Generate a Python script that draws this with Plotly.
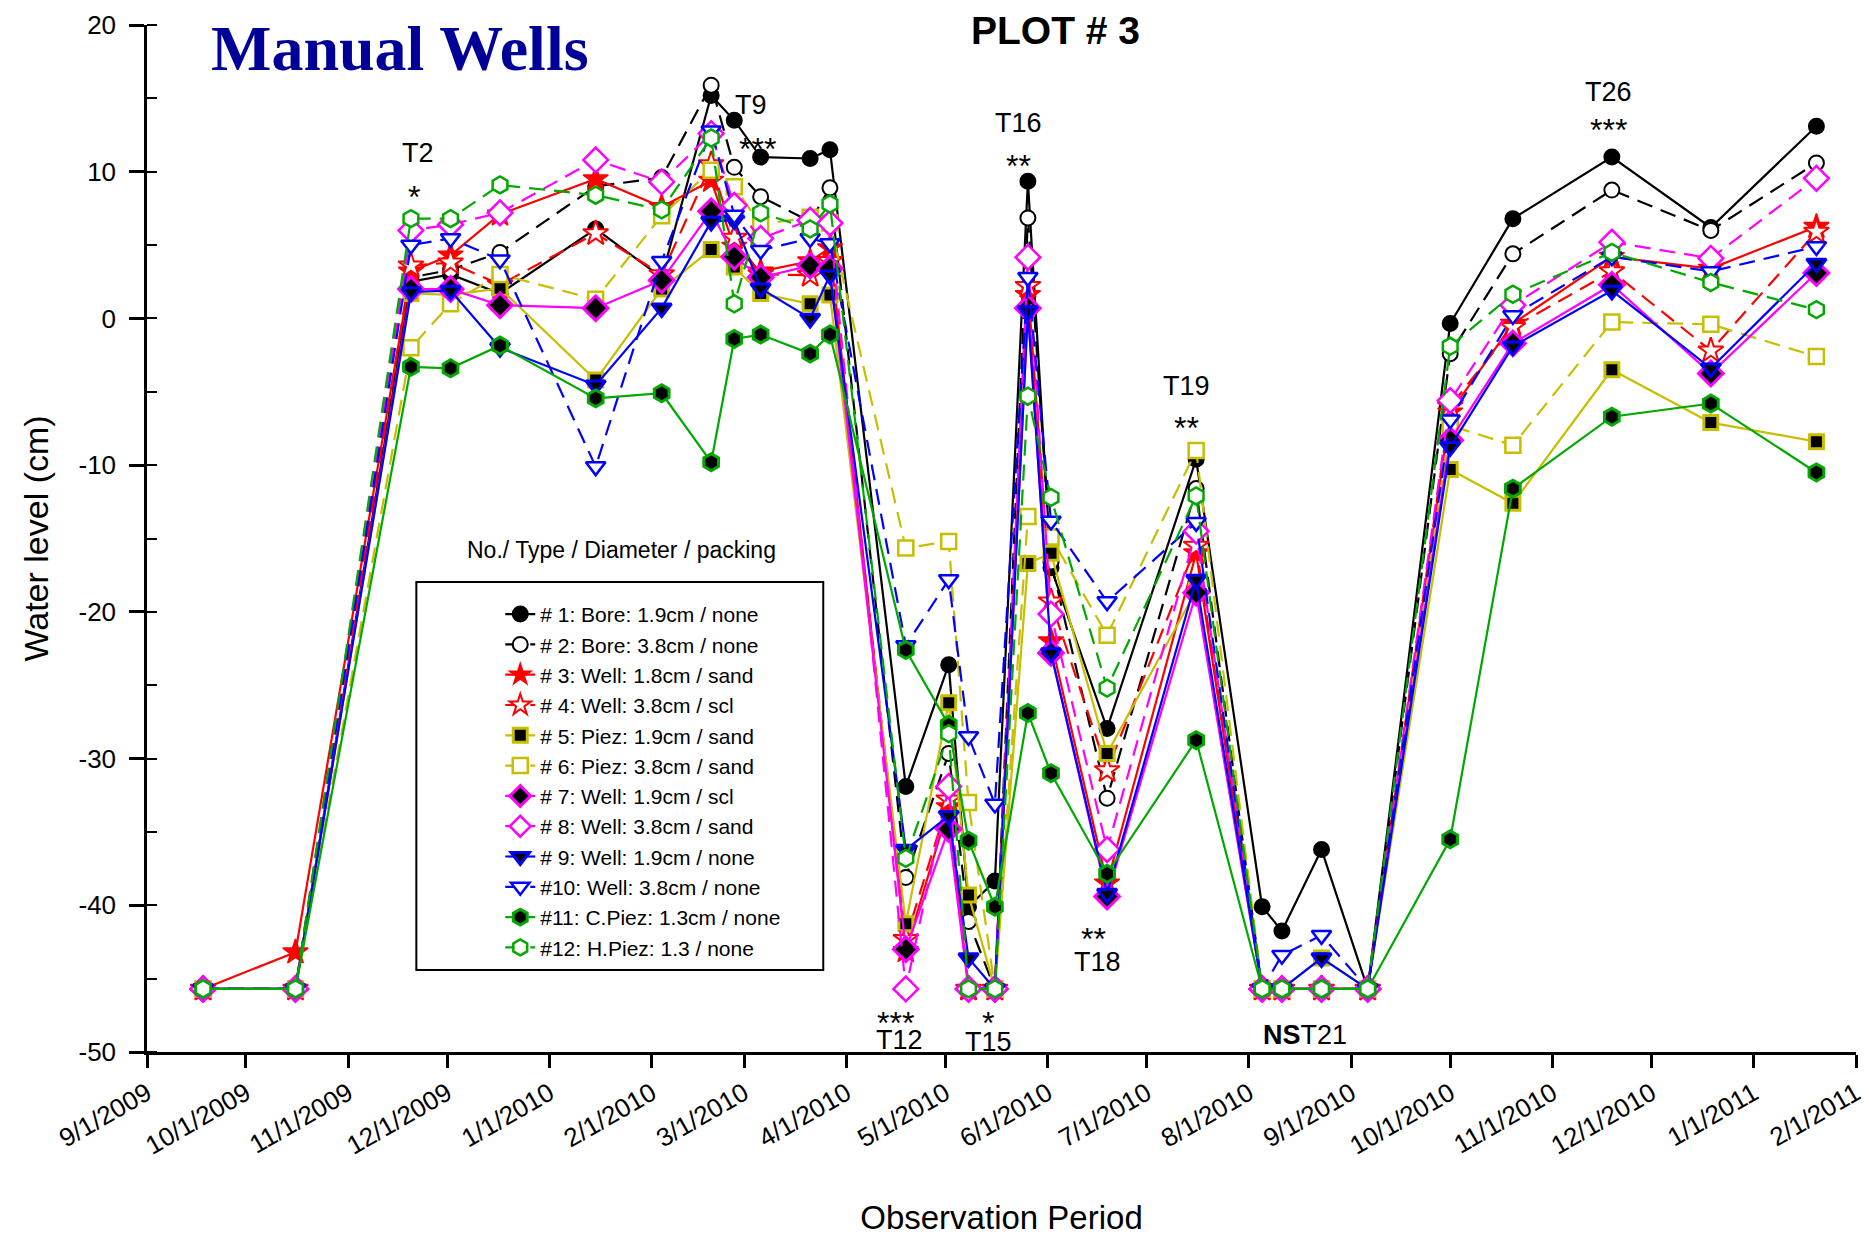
import plotly.graph_objects as go

# ---------------- data ----------------
dates = ["2009-09-18", "2009-10-16", "2009-11-20", "2009-12-02", "2009-12-17",
         "2010-01-15", "2010-02-04", "2010-02-19", "2010-02-26", "2010-03-06",
         "2010-03-21", "2010-03-27", "2010-04-19", "2010-05-02", "2010-05-08",
         "2010-05-16", "2010-05-26", "2010-06-02", "2010-06-19", "2010-07-16",
         "2010-08-05", "2010-08-11", "2010-08-23", "2010-09-06", "2010-10-01",
         "2010-10-20", "2010-11-19", "2010-12-19", "2011-01-20"]

w1 = [-45.7, -45.7, 2.5, 3.0, 1.7, 6.1, 2.8, 15.2, 13.5, 11.0, 10.9, 11.5, -31.9, -23.6, -40.1,
      -38.35, 9.35, -17.0, -27.95, -9.6, -40.1, -41.75, -36.2, -45.7, -0.35, 6.8, 11.0, 6.2, 13.1]
w2 = [-45.7, -45.7, 2.8, 3.3, 4.5, 9.0, 9.6, 15.9, 10.3, 8.3, 6.6, 8.9, -38.1, -29.65, -41.1,
      -45.7, 6.85, -16.6, -32.7, -11.6, -45.7, -45.7, -45.7, -45.7, -2.4, 4.4, 8.75, 6.0, 10.6]
w3 = [-45.7, -43.2, 3.2, 4.3, 7.1, 9.5, 7.6, 9.4, 4.9, 3.2, 3.9, 4.8, -43.1, -33.3, -45.7,
      -45.7, 1.6, -22.0, -38.5, -16.0, -45.7, -45.7, -45.7, -45.7, -6.4, -0.35, 4.2, 3.4, 6.25]
w4 = [-45.7, -45.7, 3.6, 3.8, 2.3, 5.8, 3.0, 10.5, 5.5, 3.0, 2.95, 3.9, -42.3, -32.8, -45.7,
      -45.7, 2.2, -19.3, -30.8, -15.5, -45.7, -45.7, -45.7, -45.7, -6.0, -0.6, 3.2, -2.2, 5.9]
w5 = [-45.7, -45.7, 1.7, 1.6, 2.05, -4.2, 2.0, 4.7, 3.5, 1.7, 1.0, 1.6, -41.25, -26.2, -39.3,
      -45.7, -16.7, -16.0, -29.65, -18.55, -45.7, -45.7, -43.6, -45.7, -10.3, -12.6, -3.5, -7.1, -8.4]
w6 = [-45.7, -45.7, -2.0, 1.0, 3.0, 1.3, 7.0, 10.1, 8.98, 6.4, 6.9, 6.5, -15.65, -15.2, -33.0,
      -45.7, -13.5, -14.9, -21.6, -9.0, -45.7, -45.7, -45.7, -45.7, -7.3, -8.65, -0.25, -0.4, -2.6]
w7 = [-45.7, -45.7, 2.0, 2.0, 0.9, 0.7, 2.6, 7.3, 4.2, 2.8, 3.6, 3.4, -43.0, -34.8, -45.7,
      -45.7, 0.7, -22.8, -39.4, -18.7, -45.7, -45.7, -45.7, -45.7, -8.3, -1.7, 2.3, -3.75, 3.1]
w8 = [-45.7, -45.7, 6.0, 6.4, 7.2, 10.8, 9.3, 12.6, 7.7, 5.45, 6.7, 6.5, -45.7, -31.9, -45.7,
      -45.7, 4.17, -20.15, -36.2, -14.5, -45.7, -45.7, -45.7, -45.7, -5.6, 0.9, 5.2, 4.1, 9.55]
w9 = [-45.7, -45.7, 1.8, 1.9, -2.0, -4.55, 0.7, 6.6, 6.7, 2.05, 0.0, 2.95, -36.2, -33.9, -43.6,
      -45.7, 0.5, -22.8, -39.2, -17.8, -45.7, -45.7, -43.6, -45.7, -8.75, -1.9, 1.9, -3.4, 3.75]
w10 = [-45.7, -45.7, 5.0, 5.45, 4.0, -10.1, 3.9, 12.8, 7.05, 4.65, 5.45, 5.1, -22.3, -17.8, -28.5,
       -33.1, 2.8, -13.8, -19.3, -13.9, -45.7, -43.4, -42.05, -45.7, -6.9, 0.2, 4.2, 3.2, 4.9]
w11 = [-45.7, -45.7, -3.3, -3.4, -1.85, -5.45, -5.1, -9.8, -1.4, -1.1, -2.4, -1.1, -22.6, -27.7, -35.6,
       -40.1, -26.9, -31.0, -37.85, -28.75, -45.7, -45.7, -45.7, -45.7, -35.5, -11.6, -6.7, -5.8, -10.5]
w12 = [-45.7, -45.7, 6.8, 6.8, 9.1, 8.4, 7.4, 12.3, 1.0, 7.2, 6.1, 7.8, -36.8, -28.3, -45.7,
       -45.7, -5.3, -12.2, -25.2, -12.1, -45.7, -45.7, -45.7, -45.7, -1.9, 1.65, 4.5, 2.45, 0.6]

names = ["# 1: Bore: 1.9cm / none", "# 2: Bore: 3.8cm / none", "# 3: Well: 1.8cm / sand",
         "# 4: Well: 3.8cm / scl", "# 5: Piez: 1.9cm / sand", "# 6: Piez: 3.8cm / sand",
         "# 7: Well: 1.9cm / scl", "# 8: Well: 3.8cm / sand", "# 9: Well: 1.9cm / none",
         "#10: Well: 3.8cm / none", "#11: C.Piez: 1.3cm / none", "#12: H.Piez: 1.3 / none"]

month_ticks = ["2009-09-01", "2009-10-01", "2009-11-01", "2009-12-01", "2010-01-01",
               "2010-02-01", "2010-03-01", "2010-04-01", "2010-05-01", "2010-06-01",
               "2010-07-01", "2010-08-01", "2010-09-01", "2010-10-01", "2010-11-01",
               "2010-12-01", "2011-01-01", "2011-02-01"]
month_labels = ["9/1/2009", "10/1/2009", "11/1/2009", "12/1/2009", "1/1/2010",
                "2/1/2010", "3/1/2010", "4/1/2010", "5/1/2010", "6/1/2010",
                "7/1/2010", "8/1/2010", "9/1/2010", "10/1/2010", "11/1/2010",
                "12/1/2010", "1/1/2011", "2/1/2011"]
level_ticks = [-50, -40, -30, -20, -10, 0, 10, 20]
level_labels = ["-50", "-40", "-30", "-20", "-10", "0", "10", "20"]

# annotation labels: (text, date, level)
t_labels = [("T2", "2009-11-22", 11.3), ("T9", "2010-03-03", 14.55),
            ("T16", "2010-05-23", 13.3), ("T19", "2010-07-13", -4.6),
            ("T26", "2010-11-18", 15.43), ("T18", "2010-06-16", -43.85),
            ("T12", "2010-04-17", -49.15), ("T15", "2010-05-14", -49.35),
            ("<b>NS</b>T21", "2010-08-18", -48.86)]
star_labels = [("*", "2009-11-21", 8.3), ("***", "2010-03-05", 11.55),
               ("**", "2010-05-23", 10.4), ("**", "2010-07-13", -7.5),
               ("***", "2010-11-18", 12.84), ("**", "2010-06-15", -42.3),
               ("***", "2010-04-16", -48.0), ("*", "2010-05-14", -48.0)]

# ---------------- styles ----------------
BLACK, RED, YEL, MAG, BLU, GRN = "black", "#ff0000", "#c8be00", "#ff00ff", "#0000ff", "#00a800"
DASH = "16px,9px"
styles = [
    dict(c=BLACK, dash="solid", sym="circle", fill=BLACK, size=15, lw=2),
    dict(c=BLACK, dash=DASH, sym="circle", fill="white", size=15, lw=2),
    dict(c=RED, dash="solid", sym="star", fill=RED, size=19, lw=1.5),
    dict(c=RED, dash=DASH, sym="star", fill="white", size=19, lw=2),
    dict(c=YEL, dash="solid", sym="square", fill=BLACK, size=14, lw=3),
    dict(c=YEL, dash=DASH, sym="square", fill="white", size=15, lw=2.5),
    dict(c=MAG, dash="solid", sym="diamond", fill=BLACK, size=19, lw=3),
    dict(c=MAG, dash=DASH, sym="diamond", fill="white", size=19, lw=2.5),
    dict(c=BLU, dash="solid", sym="triangle-down", fill=BLACK, size=17, lw=3),
    dict(c=BLU, dash=DASH, sym="triangle-down", fill="white", size=17, lw=2.5),
    dict(c=GRN, dash="solid", sym="hexagon", fill=BLACK, size=17, lw=3),
    dict(c=GRN, dash=DASH, sym="hexagon", fill="white", size=17, lw=2.5),
]
series = [w1, w2, w3, w4, w5, w6, w7, w8, w9, w10, w11, w12]

fig = go.Figure()
for vals, nm, s in zip(series, names, styles):
    fig.add_trace(go.Scatter(
        x=dates, y=vals, name=nm, mode="lines+markers",
        line=dict(color=s["c"], width=2.2, dash=s["dash"]),
        marker=dict(symbol=s["sym"], size=s["size"], color=s["fill"],
                    line=dict(color=s["c"], width=s["lw"])),
    ))

FONT = "Liberation Sans, Arial, sans-serif"
annotations = []
for txt, d, v in t_labels:
    annotations.append(dict(text=txt, x=d, y=v, xref="x", yref="y", showarrow=False,
                            font=dict(family=FONT, size=27, color="black"),
                            xanchor="center", yanchor="middle"))
for txt, d, v in star_labels:
    annotations.append(dict(text=txt, x=d, y=v, xref="x", yref="y", showarrow=False,
                            font=dict(family=FONT, size=32, color="black"),
                            xanchor="center", yanchor="middle"))
annotations.append(dict(text="<b>Manual Wells</b>", xref="paper", yref="paper", x=0.148, y=0.9776,
                        showarrow=False, xanchor="center", yanchor="middle",
                        font=dict(family="Liberation Serif, Times New Roman, serif", size=64, color="#000099")))
annotations.append(dict(text="<b>PLOT # 3</b>", xref="paper", yref="paper", x=0.5314, y=0.995,
                        showarrow=False, xanchor="center", yanchor="middle",
                        font=dict(family=FONT, size=39, color="black")))
annotations.append(dict(text="No./ Type / Diameter / packing", xref="paper", yref="paper",
                        x=0.2775, y=0.4888, showarrow=False, xanchor="center", yanchor="middle",
                        font=dict(family=FONT, size=23, color="black")))

# the page body adds an 8 px offset; size the figure so the plot area lands where the reference has it
fig.update_layout(
    width=1861, height=1228,
    margin=dict(l=139, r=13, t=17, b=184),
    paper_bgcolor="white", plot_bgcolor="white",
    font=dict(family=FONT, color="black"),
    showlegend=True,
    legend=dict(x=0.2067, y=0.446, xanchor="left", yanchor="top",
                bgcolor="rgba(0,0,0,0)", borderwidth=0,
                font=dict(family=FONT, size=21, color="black"),
                tracegroupgap=0, itemsizing="trace"),
    annotations=annotations,
    shapes=[dict(type="rect", xref="paper", yref="paper", x0=0.1576, x1=0.3957,
                 y0=0.0798, y1=0.4577, line=dict(color="black", width=2))],
)
fig.update_xaxes(
    type="date", range=["2009-09-01", "2011-02-01"], automargin=False,
    tickvals=month_ticks, ticktext=month_labels, tickangle=-30,
    ticks="outside", ticklen=13, tickwidth=2.5, tickcolor="black",
    showline=True, linecolor="black", linewidth=3, showgrid=False, zeroline=False,
    tickfont=dict(family=FONT, size=26, color="black"),
    title=dict(text="Observation Period", font=dict(family=FONT, size=33, color="black"), standoff=63),
)
fig.update_yaxes(
    range=[-50, 20], tickvals=level_ticks, ticktext=level_labels, automargin=False,
    ticks="outside", ticklen=15, tickwidth=2.5, tickcolor="black", ticklabelstandoff=8,
    minor=dict(dtick=5, tick0=0, ticks="inside", ticklen=10, tickwidth=2, tickcolor="black", showgrid=False),
    showline=True, linecolor="black", linewidth=2.5, showgrid=False, zeroline=False,
    tickfont=dict(family=FONT, size=26, color="black"),
    title=dict(text="Water level (cm)", font=dict(family=FONT, size=34, color="black"), standoff=20),
)

fig.write_html("out.html")
